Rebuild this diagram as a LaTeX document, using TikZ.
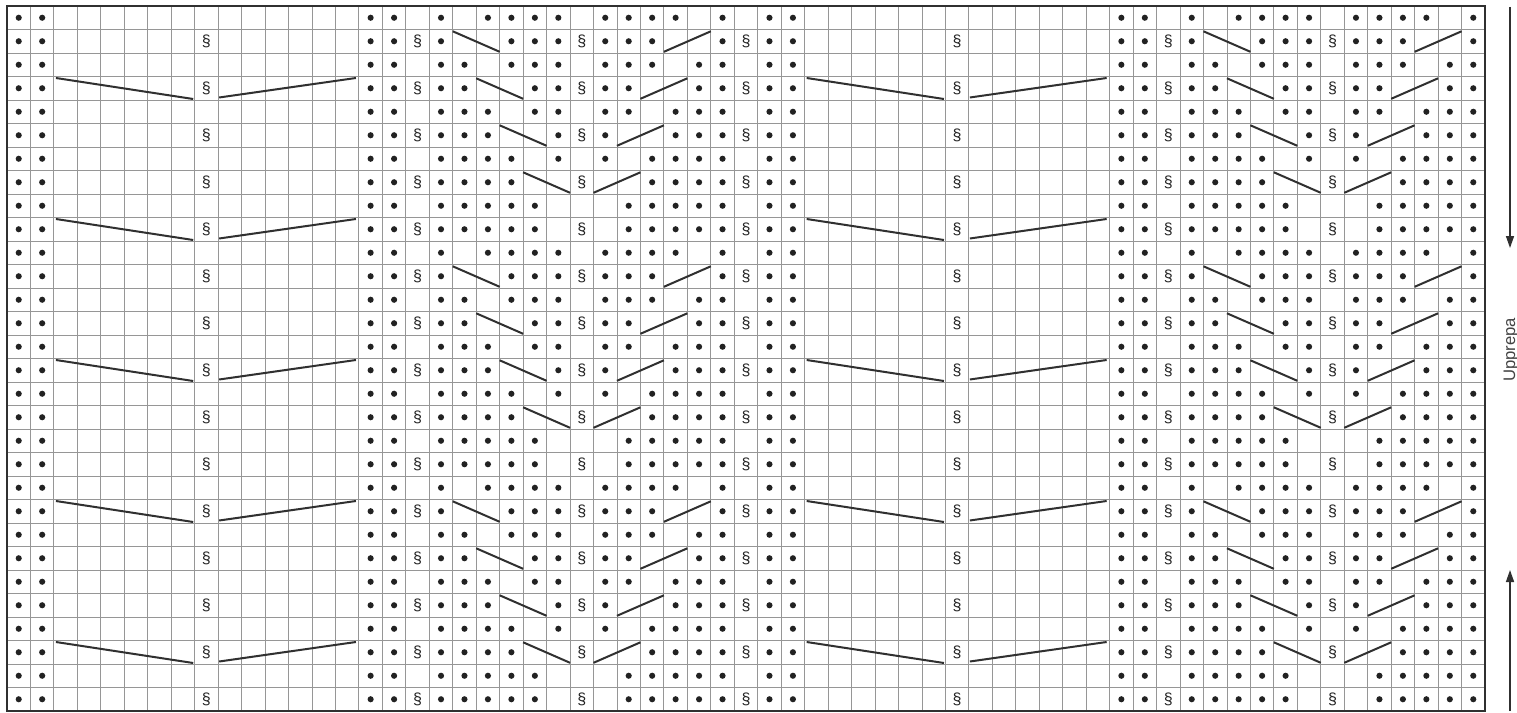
\documentclass[tikz,border=0pt]{standalone}
\usepackage{fontspec}
\setmainfont{Liberation Sans}
\usetikzlibrary{arrows.meta}
\definecolor{gridc}{HTML}{969696}
\definecolor{inkc}{HTML}{222222}
\definecolor{framec}{HTML}{303030}
\definecolor{labelc}{HTML}{444444}
\tikzset{
  chartdot/.style={fill=inkc},
  pmark/.style={inner sep=0pt, text=inkc, font=\fontsize{12}{13}\selectfont},
  cableline/.style={draw=framec, line width=1.5pt},
  gridline/.style={draw=gridc, line width=0.65pt},
}
\def\xo{7}
\def\yo{6}
\def\cw{23.4603}
\def\ch{23.5}
% #1 row, #2 dot columns (within repeat), #3 left column of the cable crossing (0 = none)
\newcommand\chartrow[3]{%
  \foreach \p in {1,2,#2}{%
    \foreach \k in {0,32}{%
      \pgfmathtruncatemacro\cc{\p+\k}%
      \ifnum\cc<64 \fill[chartdot] ({\xo+(\cc-0.5)*\cw},{\yo+(#1-0.5)*\ch}) circle (2.3pt);\fi
    }}%
  \ifodd#1\relax\else
    \foreach \p in {9,18,25,32}{%
      \foreach \k in {0,32}{%
        \pgfmathtruncatemacro\cc{\p+\k}%
        \ifnum\cc<64 \node[pmark] (s-\cc-#1) at ({\xo+(\cc-0.5)*\cw},{\yo+(#1-0.5)*\ch+0.5}) {\S};\fi
      }}%
  \fi
  \ifnum#3>0
    \foreach \k in {0,32}{%
      \draw[cableline] ({\xo+(#3-1+\k)*\cw},{\yo+(#1-1)*\ch+1.8}) -- ({\xo+(#3+1+\k)*\cw},{\yo+#1*\ch-1.2});
      \draw[cableline] ({\xo+(48-#3+\k)*\cw},{\yo+#1*\ch-1.2}) -- ({\xo+(50-#3+\k)*\cw},{\yo+(#1-1)*\ch+1.8});
    }%
  \fi
}
\begin{document}
\begin{tikzpicture}[x=0.75pt,y=-0.75pt]
\fill[white] (0,0) rectangle (1517,713);
\useasboundingbox (0,0) rectangle (1517,713);
% grid
\foreach \i in {1,...,62} \draw[gridline] ({\xo+\i*\cw},\yo) -- ({\xo+\i*\cw},711);
\foreach \j in {1,...,29} \draw[gridline] (\xo,{\yo+\j*\ch}) -- (1485,{\yo+\j*\ch});
% rows
\foreach \m in {0,10,20}{
  \pgfmathtruncatemacro\r{\m+1}\chartrow{\r}{16,17,19,21,22,23,24,26,27,28,29,31}{0}
  \pgfmathtruncatemacro\r{\m+2}\chartrow{\r}{16,17,19,22,23,24,26,27,28,31}{20}
  \pgfmathtruncatemacro\r{\m+3}\chartrow{\r}{16,17,19,20,22,23,24,26,27,28,30,31}{0}
  \pgfmathtruncatemacro\r{\m+4}\chartrow{\r}{16,17,19,20,23,24,26,27,30,31}{21}
  \pgfmathtruncatemacro\r{\m+5}\chartrow{\r}{16,17,19,20,21,23,24,26,27,29,30,31}{0}
  \pgfmathtruncatemacro\r{\m+6}\chartrow{\r}{16,17,19,20,21,24,26,29,30,31}{22}
  \pgfmathtruncatemacro\r{\m+7}\chartrow{\r}{16,17,19,20,21,22,24,26,28,29,30,31}{0}
  \pgfmathtruncatemacro\r{\m+8}\chartrow{\r}{16,17,19,20,21,22,28,29,30,31}{23}
  \pgfmathtruncatemacro\r{\m+9}\chartrow{\r}{16,17,19,20,21,22,23,27,28,29,30,31}{0}
  \pgfmathtruncatemacro\r{\m+10}\chartrow{\r}{16,17,19,20,21,22,23,27,28,29,30,31}{0}
}
% wide crossings every 6 rows
\foreach \r in {4,10,16,22,28}{
  \foreach \k in {0,32}{
    \draw[cableline] ({\xo+(2+\k)*\cw+2},{\yo+(\r-1)*\ch+1.5}) -- ({\xo+(8+\k)*\cw-1.5},{\yo+\r*\ch-1});
    \draw[cableline] ({\xo+(9+\k)*\cw+1},{\yo+\r*\ch-2.5}) -- ({\xo+(15+\k)*\cw-3},{\yo+(\r-1)*\ch+1.5});
  }
}
% frame
\draw[framec, line width=2.2pt] (\xo,\yo) rectangle (1485,711);
% repeat marker
\coordinate (rt) at (1510,7);
\coordinate (rtend) at (1510,248);
\coordinate (rb) at (1510,711);
\coordinate (rbend) at (1510,570);
\draw[framec, line width=1.1pt, -{Triangle[length=9pt,width=6pt]}] (rt) -- (rtend);
\draw[framec, line width=1.1pt, -{Triangle[length=9pt,width=6pt]}] (rb) -- (rbend);
\node[rotate=90, anchor=base, inner sep=0pt, text=labelc, font=\fontsize{12.5}{14}\selectfont] (lbl) at (1515,350) {Upprepa};
\end{tikzpicture}
\end{document}
